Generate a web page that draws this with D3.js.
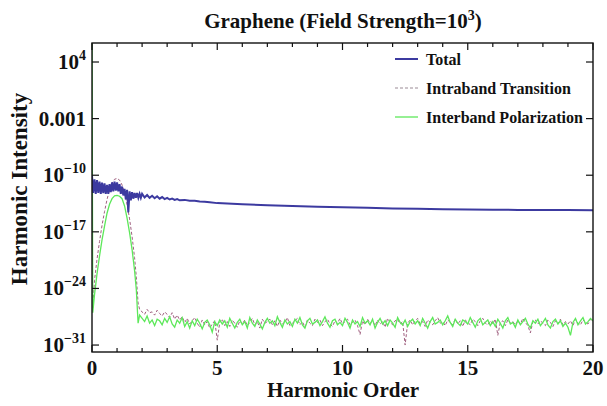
<!DOCTYPE html>
<html><head><meta charset="utf-8">
<script src="https://cdn.jsdelivr.net/npm/d3@7/dist/d3.min.js"></script>
<style>body{margin:0;background:#fff}text{font-family:"Liberation Serif","Times New Roman",serif;font-weight:bold;fill:#111}</style>
</head><body><svg id="c" width="607" height="406"></svg>
<script>
// ---------- data (intensities given as log10 exponents) ----------
const xTicks = [0, 5, 10, 15, 20];
const yTickExps = [4, -3, -10, -17, -24, -31];
const seriesNames = ["Total", "Intraband Transition", "Interband Polarization"];

const totalX = [0,0.05,0.1,0.15,0.2,0.25,0.3,0.35,0.4,0.45,0.5,0.55,0.6,0.65,0.7,0.75,0.8,0.85,0.9,0.95,1.0,1.05,1.1,1.15,1.2,1.25,1.3,1.35,1.4,1.45,1.5,1.55,1.6,1.65,1.7,1.75,1.8,1.85,1.9,1.95,2.0,2.1,2.2,2.3,2.4,2.5,2.6,2.7,2.8,2.9,3.0,3.1,3.2,3.3,3.4,3.5,3.7,3.9,4.1,4.3,4.5,4.7,5,6,7,8,9,10,11,12,13,14,15,16,17,18,19,20];
const totalExp = [-10.1,-12.2,-10.5,-12.3,-10.6,-12.2,-10.8,-12.3,-10.9,-12.2,-11.0,-12.3,-11.2,-12.3,-11.1,-12.1,-10.9,-12.0,-10.8,-11.9,-10.9,-12.0,-11.1,-12.3,-11.4,-12.5,-11.7,-13.0,-11.8,-14.6,-12.0,-13.1,-12.1,-12.9,-12.2,-12.8,-12.2,-12.8,-12.3,-12.8,-12.3,-12.75,-12.45,-12.8,-12.55,-12.85,-12.6,-12.9,-12.7,-12.95,-12.8,-13.0,-12.9,-13.05,-12.95,-13.1,-13.05,-13.15,-13.15,-13.25,-13.28,-13.35,-13.45,-13.6,-13.72,-13.82,-13.9,-13.96,-14.03,-14.1,-14.15,-14.2,-14.24,-14.27,-14.29,-14.3,-14.31,-14.32];

const peakX = [0,0.03,0.1,0.2,0.3,0.4,0.5,0.6,0.7,0.8,0.9,1.0,1.1,1.2,1.3,1.4,1.5,1.6,1.7,1.77,1.84,1.9];
const interPeakExp = [8,-27.0,-24.8,-22.2,-20.0,-18.0,-16.3,-14.7,-13.6,-12.9,-12.55,-12.5,-12.6,-12.9,-13.8,-15.3,-17.1,-19.2,-21.8,-24.2,-28.3,-27.3];
const intraPeakExp = [-26.0,-26.5,-23.0,-20.4,-18.2,-16.2,-14.5,-13.0,-11.8,-11.0,-10.5,-10.4,-10.6,-11.2,-12.2,-13.6,-15.4,-17.6,-20.2,-22.6,-25.8,-26.6];

// noise floor sampled every 0.1 from 2.0 to 20.0
const floorStart = 2.0, floorStep = 0.1;
const interFloorExp = [
-27.6,-28.1,-27.4,-28.3,-27.9,-28.6,-27.8,-28.0,-28.5,-27.7,
-28.2,-27.5,-28.4,-28.8,-27.9,-28.3,-27.6,-28.7,-28.1,-28.9,
-28.0,-28.6,-27.8,-28.3,-29.0,-28.2,-27.9,-28.5,-29.4,-28.1,
-28.6,-27.9,-28.4,-28.0,-28.8,-27.7,-28.3,-28.9,-28.2,-27.8,
-28.5,-28.1,-28.9,-27.6,-28.3,-28.7,-27.9,-28.4,-29.0,-28.2,
-27.7,-28.3,-28.0,-28.6,-27.5,-28.2,-28.8,-27.9,-28.4,-28.1,
-28.7,-27.8,-28.3,-27.6,-28.5,-28.9,-28.0,-27.7,-28.4,-28.2,
-27.9,-28.6,-28.1,-27.5,-28.3,-28.8,-28.0,-27.8,-28.5,-28.2,
-28.6,-27.7,-28.2,-28.9,-27.9,-28.4,-28.1,-28.7,-27.6,-28.3,
-28.0,-28.5,-27.8,-28.9,-28.2,-27.7,-28.4,-28.0,-28.6,-27.9,
-28.3,-28.8,-27.6,-28.2,-28.5,-27.9,-28.7,-28.1,-27.8,-28.4,
-28.0,-28.6,-27.7,-28.3,-28.9,-28.1,-27.6,-28.4,-28.2,-27.9,
-28.5,-28.0,-27.4,-28.2,-28.7,-27.8,-28.3,-28.6,-27.9,-28.1,
-28.4,-27.6,-28.2,-28.8,-28.0,-27.7,-28.5,-28.2,-27.9,-28.6,
-28.1,-28.7,-27.8,-28.3,-28.9,-28.0,-27.6,-28.4,-28.2,-28.8,
-27.9,-28.5,-28.1,-27.7,-28.4,-28.9,-28.0,-28.3,-27.8,-28.6,
-28.2,-27.7,-28.5,-28.9,-28.1,-27.8,-28.4,-28.0,-28.7,-28.3,
-28.8,-29.8,-28.2,-27.7,-28.5,-28.0,-27.6,-28.4,-28.1,-27.7,
-28.0];
const intraFloorExp = [
-26.8,-27.2,-26.6,-27.0,-26.9,-27.3,-26.7,-27.1,-27.4,-26.9,
-27.2,-27.6,-27.0,-27.8,-27.3,-27.9,-27.5,-28.2,-27.7,-28.4,
-28.0,-27.6,-28.3,-28.8,-27.9,-28.5,-28.1,-28.9,-28.4,-28.0,
-30.4,-28.2,-27.8,-28.6,-28.1,-28.7,-27.9,-28.3,-28.8,-28.0,
-28.4,-27.9,-28.6,-28.2,-27.7,-28.5,-28.1,-28.9,-27.8,-28.3,
-28.1,-27.8,-28.5,-28.0,-28.7,-27.9,-28.4,-28.2,-27.6,-28.6,
-28.3,-28.0,-27.7,-28.5,-28.1,-28.8,-27.9,-28.3,-28.6,-27.8,
-28.2,-27.9,-28.6,-28.1,-27.8,-28.4,-28.7,-28.0,-28.3,-27.7,
-28.4,-28.1,-27.8,-28.5,-28.2,-27.9,-28.6,-29.7,-28.0,-28.5,
-27.8,-28.3,-28.0,-28.6,-27.9,-28.4,-28.1,-28.8,-27.7,-28.2,
-28.5,-28.0,-27.8,-28.4,-28.1,-31.0,-28.3,-27.9,-28.5,-28.0,
-27.7,-28.4,-28.1,-28.7,-27.9,-28.2,-28.5,-28.0,-27.6,-28.3,
-28.1,-28.6,-27.9,-28.2,-28.5,-27.8,-28.4,-28.0,-28.7,-27.9,
-28.2,-28.5,-27.8,-28.1,-28.6,-28.0,-27.7,-28.3,-28.5,-28.0,
-28.4,-27.8,-29.8,-28.2,-28.0,-28.6,-27.9,-28.3,-28.1,-28.5,
-28.0,-28.4,-27.7,-28.2,-28.6,-29.5,-28.1,-27.9,-28.4,-28.0,
-28.3,-28.6,-27.9,-28.2,-28.7,-28.0,-28.4,-27.8,-28.5,-28.1,
-28.4,-28.0,-28.6,-27.8,-28.3,-28.5,-27.9,-28.2,-28.4,-27.8,
-28.1];

// ---------- layout ----------
const svg = d3.select("#c");
const L = 92, R = 593, T = 43, B = 352;
const x = d3.scaleLinear().domain([0, 20]).range([L, R]);
const y = d3.scaleLog().domain([Math.pow(10, -31.86), Math.pow(10, 6.35)]).range([B, T]);

const floorX = interFloorExp.map((_, i) => +(floorStart + i * floorStep).toFixed(2));
const total = totalX.map((v, i) => [v, totalExp[i]]);
const inter = peakX.map((v, i) => [v, interPeakExp[i]]).concat(floorX.map((v, i) => [v, interFloorExp[i]]).slice(1));
const intra = peakX.map((v, i) => [v, intraPeakExp[i]]).concat(floorX.map((v, i) => [v, intraFloorExp[i]]).slice(1));

svg.append("defs").append("clipPath").attr("id", "clip")
  .append("rect").attr("x", L).attr("y", T).attr("width", R - L).attr("height", B - T);

const line = d3.line().x(d => x(d[0])).y(d => y(Math.pow(10, d[1])));
const colors = { total: "#3c3aa0", intra: "#a0607f", inter: "#5de85a" };

const g = svg.append("g").attr("clip-path", "url(#clip)");
g.append("path").datum(intra).attr("d", line).attr("fill", "none").attr("stroke", colors.intra).attr("stroke-width", 1).attr("stroke-dasharray", "3,2");
g.append("path").datum(inter).attr("d", line).attr("fill", "none").attr("stroke", colors.inter).attr("stroke-width", 1.3);
g.append("path").datum(total).attr("d", line).attr("fill", "none").attr("stroke", colors.total).attr("stroke-width", 2);

// frame
svg.append("rect").attr("x", L).attr("y", T).attr("width", R - L).attr("height", B - T)
  .attr("fill", "none").attr("stroke", "#111").attr("stroke-width", 1.4);

// x ticks (inward), minor each unit
const minorX = d3.range(0, 21, 1);
minorX.forEach(v => {
  const major = xTicks.includes(v);
  const len = major ? 7 : 4;
  svg.append("line").attr("x1", x(v)).attr("x2", x(v)).attr("y1", B).attr("y2", B - len).attr("stroke", "#111").attr("stroke-width", 1.2);
  svg.append("line").attr("x1", x(v)).attr("x2", x(v)).attr("y1", T).attr("y2", T + len).attr("stroke", "#111").attr("stroke-width", 1.2);
});
xTicks.forEach(v => {
  svg.append("text").attr("x", x(v)).attr("y", 375).attr("text-anchor", "middle").attr("font-size", 21).text(v);
});

// y ticks
yTickExps.forEach(e => {
  const yy = y(Math.pow(10, e));
  svg.append("line").attr("x1", L).attr("x2", L + 7).attr("y1", yy).attr("y2", yy).attr("stroke", "#111").attr("stroke-width", 1.2);
  svg.append("line").attr("x1", R).attr("x2", R - 7).attr("y1", yy).attr("y2", yy).attr("stroke", "#111").attr("stroke-width", 1.2);
  const t = svg.append("text").attr("x", 86).attr("y", yy + 7).attr("text-anchor", "end").attr("font-size", 21);
  if (e === -3) t.text("0.001");
  else {
    t.append("tspan").text("10");
    t.append("tspan").attr("dy", -9).attr("font-size", 14).text(e < 0 ? "\u2212" + (-e) : e);
  }
});

// title
const title = svg.append("text").attr("x", 343).attr("y", 28).attr("text-anchor", "middle").attr("font-size", 21);
title.append("tspan").text("Graphene (Field Strength=10");
title.append("tspan").attr("dy", -8).attr("font-size", 14).text("3");
title.append("tspan").attr("dy", 8).text(")");

// axis labels
svg.append("text").attr("x", 343).attr("y", 397).attr("text-anchor", "middle").attr("font-size", 21).text("Harmonic Order");
svg.append("text").attr("transform", "translate(27,189) rotate(-90)").attr("text-anchor", "middle").attr("font-size", 23).text("Harmonic Intensity");

// legend
const legY = [59, 88, 117];
const legStyles = [
  { c: colors.total, w: 2, d: null },
  { c: "#9a8a95", w: 1, d: "3,2" },
  { c: colors.inter, w: 1.3, d: null }
];
seriesNames.forEach((n, i) => {
  svg.append("line").attr("x1", 395).attr("x2", 418).attr("y1", legY[i]).attr("y2", legY[i])
    .attr("stroke", legStyles[i].c).attr("stroke-width", legStyles[i].w).attr("stroke-dasharray", legStyles[i].d);
  svg.append("text").attr("x", 426).attr("y", legY[i] + 5.5).attr("font-size", 16).text(n);
});
</script></body></html>
